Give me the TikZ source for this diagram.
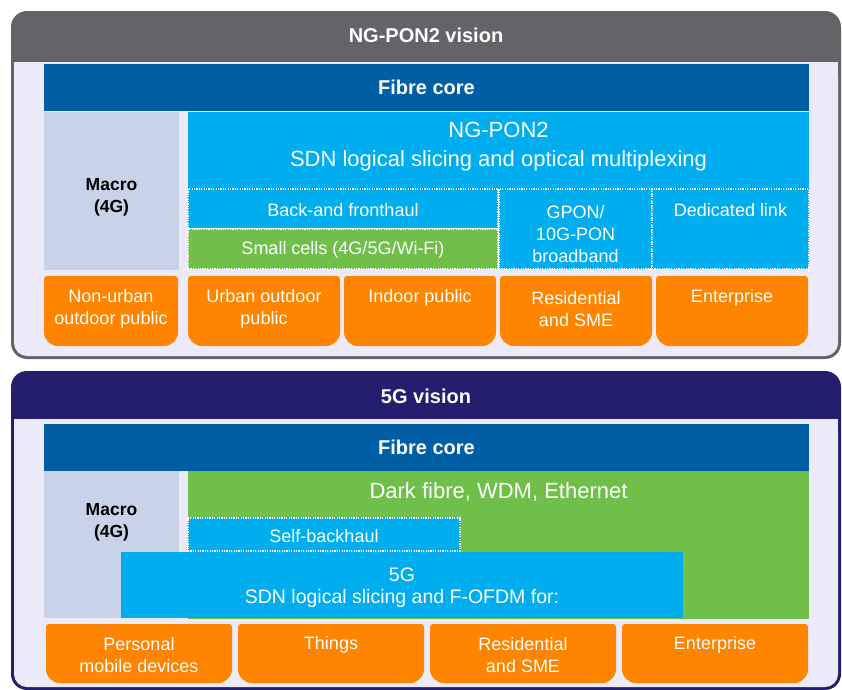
\documentclass[tikz,border=0pt]{standalone}
\usepackage{fontspec}
\setmainfont{Liberation Sans}
\definecolor{grayC}{RGB}{99,100,104}
\definecolor{navyC}{RGB}{35,31,110}
\definecolor{lavC}{RGB}{236,234,248}
\definecolor{fibC}{RGB}{0,94,165}
\definecolor{lbC}{RGB}{0,174,239}
\definecolor{macC}{RGB}{200,211,233}
\definecolor{grC}{RGB}{112,191,75}
\definecolor{orC}{RGB}{255,132,0}
\tikzset{
  plain/.style={inner sep=0pt,outer sep=0pt},
  dotbox/.style={draw=white,line width=1.2pt,dash pattern=on 1.2pt off 1.2pt},
  txt/.style={text=white,font=\fontsize{18}{22}\selectfont,align=center,inner sep=0pt},
  midtxt/.style={text=white,font=\fontsize{19.5}{22}\selectfont,align=center,inner sep=0pt},
  bigtxt/.style={text=white,font=\fontsize{22}{29}\selectfont,align=center,inner sep=0pt},
  headtxt/.style={text=white,font=\bfseries\fontsize{20}{24}\selectfont,inner sep=0pt},
  mactxt/.style={text=black,font=\bfseries\fontsize{17.5}{22}\selectfont,align=center,inner sep=0pt}
}
\newcommand\bx[6]{\node[plain,#2,anchor=north west,minimum width={(#5)-(#3)},minimum height={(#6)-(#4)}] (#1) at (#3,#4) {};}
\newcommand\obox[5]{\bx{#1}{}{#2}{#3}{#4}{#5}%
  \fill[orC] (#1.west) [rounded corners=3pt] -- (#1.north west) -- (#1.north east) -- (#1.east) [rounded corners=14pt] -- (#1.south east) -- (#1.south west) -- cycle;}
\begin{document}
\begin{tikzpicture}[x=1pt,y=-1pt]
\useasboundingbox (0,0) rectangle (842,689);
% ---------- NG-PON2 frame
\fill[grayC,rounded corners=16pt] (11,11) rectangle (841,359);
\fill[lavC,rounded corners=13pt] (14,62) rectangle (838,356);
\fill[lavC] (14,62) rectangle (838,90);
\node[headtxt] (v1) at (426,35) {NG-PON2 vision};
\bx{fib1}{fill=fibC}{44}{64}{809}{111}
\node[headtxt] (f1t) at (fib1.center) {Fibre core};
\bx{mac1}{fill=macC}{44}{112}{179}{270}
\node[mactxt] (m1t) at (111.5,197) {Macro\\(4G)};
\bx{ng}{fill=lbC}{188}{112}{809}{189}
\node[bigtxt] (ngt) at (498.5,147) {NG-PON2\\SDN logical slicing and optical multiplexing};
\bx{bf}{fill=lbC,dotbox}{188}{189}{498}{229}
\node[txt] (bft) at (343,210) {Back-and fronthaul};
\bx{sc}{fill=grC,dotbox}{188}{229}{498}{269}
\node[txt] (sct) at (343,250) {Small cells (4G/5G/Wi-Fi)};
\bx{gp}{fill=lbC,dotbox}{499}{189}{652}{269}
\node[txt] (gpt) at (575.5,234) {GPON/\\10G-PON\\broadband};
\bx{dl}{fill=lbC,dotbox}{652}{189}{809}{269}
\node[txt] (dlt) at (730.5,210) {Dedicated link};
\obox{o11}{44}{276}{178}{346}
\obox{o12}{188}{276}{340}{346}
\obox{o13}{344}{276}{496}{346}
\obox{o14}{500}{276}{652}{346}
\obox{o15}{656}{276}{808}{346}
\node[txt] (o11t) at (111,309) {Non-urban\\outdoor public};
\node[txt] (o12t) at (264,309) {Urban outdoor\\public};
\node[txt] (o13t) at (420,298) {Indoor public};
\node[txt] (o14t) at (576,309) {Residential\\and SME};
\node[txt] (o15t) at (732,298) {Enterprise};
% ---------- 5G frame
\fill[navyC,rounded corners=16pt] (11,371) rectangle (841,690);
\fill[lavC,rounded corners=13pt] (14,419) rectangle (838,687);
\fill[lavC] (14,419) rectangle (838,450);
\node[headtxt] (v2) at (426,396) {5G vision};
\bx{fib2}{fill=fibC}{44}{424}{809}{471}
\node[headtxt] (f2t) at (fib2.center) {Fibre core};
\bx{mac2}{fill=macC}{44}{471}{179}{618}
\node[mactxt] (m2t) at (111.5,522) {Macro\\(4G)};
\bx{gr}{fill=grC}{188}{471}{809}{619}
\node[bigtxt] (grt) at (498.5,492) {Dark fibre, WDM, Ethernet};
\bx{sb}{fill=lbC,dotbox}{188}{518}{460}{551}
\node[txt] (sbt) at (324,536) {Self-backhaul};
\bx{g5}{fill=lbC}{121}{552}{683}{618}
\node[midtxt] (g5t) at (402,588) {5G\\SDN logical slicing and F-OFDM for:};
\obox{o21}{46}{624}{232}{683}
\obox{o22}{238}{624}{424}{683}
\obox{o23}{430}{624}{616}{683}
\obox{o24}{622}{624}{808}{683}
\node[txt] (o21t) at (139,655.5) {Personal\\mobile devices};
\node[txt] (o22t) at (331,645) {Things};
\node[txt] (o23t) at (523,655.5) {Residential\\and SME};
\node[txt] (o24t) at (715,645) {Enterprise};
\end{tikzpicture}
\end{document}
